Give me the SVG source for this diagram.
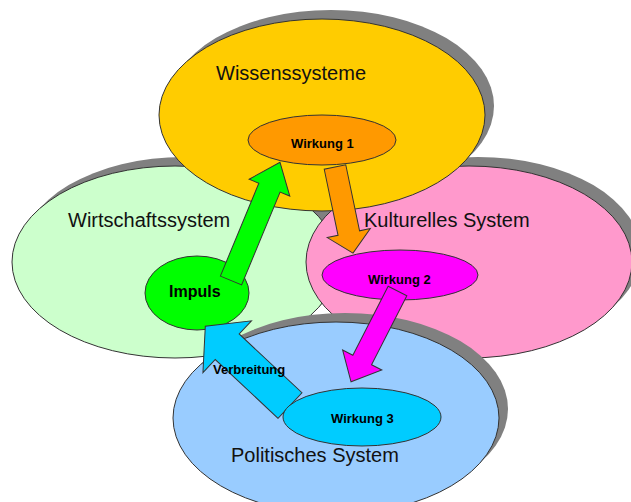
<svg xmlns="http://www.w3.org/2000/svg" width="631" height="502" viewBox="0 0 631 502">
<style>
.shadow{fill:#808080;stroke:none}
.ol{stroke:#333;stroke-width:1}
.big{font-family:"Liberation Sans",Arial,sans-serif;font-size:20px;fill:#111}
.lbl{font-family:"Liberation Sans",Arial,sans-serif;font-size:13px;font-weight:bold;fill:#000}
.arrow{stroke:#333;stroke-width:1;stroke-linejoin:miter}
</style>
<rect width="631" height="502" fill="#fff"/>
<g id="wirtschaftssystem">
<ellipse class="shadow" cx="184" cy="253" rx="163" ry="96"/>
<ellipse class="ol" cx="175" cy="262" rx="163" ry="96" fill="#ccffcc"/>
<text class="big" x="68" y="227">Wirtschaftssystem</text>
</g>
<g id="kulturelles-system">
<ellipse class="shadow" cx="478" cy="253" rx="163" ry="96"/>
<ellipse class="ol" cx="469" cy="262" rx="163" ry="96" fill="#ff99cc"/>
<text class="big" x="364" y="227">Kulturelles System</text>
</g>
<g id="wissenssysteme">
<ellipse class="shadow" cx="331" cy="106" rx="163" ry="96"/>
<ellipse class="ol" cx="322" cy="115" rx="163" ry="96" fill="#ffcc00"/>
<text class="big" x="216" y="80">Wissenssysteme</text>
</g>
<g id="politisches-system">
<ellipse class="shadow" cx="345" cy="409" rx="163" ry="96"/>
<ellipse class="ol" cx="336" cy="418" rx="163" ry="96" fill="#99ccff"/>
<text class="big" x="231" y="462">Politisches System</text>
</g>
<g id="impuls">
<ellipse class="ol" cx="197" cy="293" rx="52" ry="37" fill="#00ff00"/>
<text class="lbl" x="169" y="297" style="font-size:16px">Impuls</text>
</g>
<g id="wirkung1">
<ellipse class="ol" cx="322" cy="140" rx="74" ry="25" fill="#ff9900"/>
<text class="lbl" x="291" y="148">Wirkung 1</text>
</g>
<g id="wirkung2">
<ellipse class="ol" cx="400" cy="275" rx="78" ry="25" fill="#ff00ff"/>
<text class="lbl" x="368" y="284">Wirkung 2</text>
</g>
<g id="connectors">
<polygon class="arrow" fill="#00ff00" points="0,-11.5 100.5,-11.5 100.5,-22 128,0 100.5,22 100.5,11.5 0,11.5" transform="translate(231,280.5) rotate(-67.5)"/>
<polygon class="arrow" fill="#ff9900" points="0,-11 67.5,-11 67.5,-22 88,0 67.5,22 67.5,11 0,11" transform="translate(335,167) rotate(78.2)"/>
<polygon class="arrow" fill="#ff00ff" points="0,-10.5 77.5,-10.5 77.5,-22 102,0 77.5,22 77.5,10.5 0,10.5" transform="translate(397.5,291) rotate(117.1)"/>
<polygon class="arrow" fill="#00ccff" points="0,-17.5 86,-17.5 86,-35.5 116,0 86,35.5 86,17.5 0,17.5" transform="translate(290,405.5) rotate(-136.9)"/>
<text class="lbl" x="213" y="374">Verbreitung</text>
</g>
<g id="wirkung3">
<ellipse class="ol" cx="362" cy="417" rx="79" ry="29" fill="#00ccff"/>
<text class="lbl" x="331" y="423">Wirkung 3</text>
</g>
</svg>
